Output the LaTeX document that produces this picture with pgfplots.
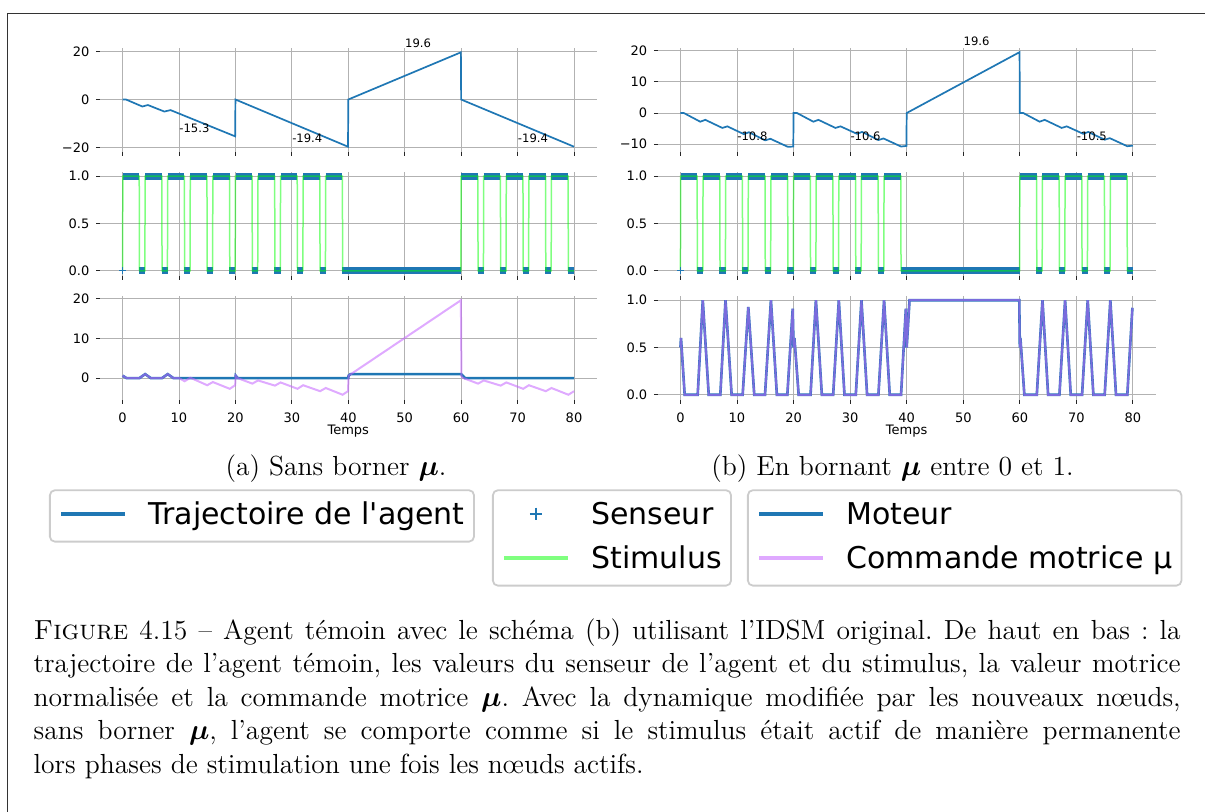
\documentclass[border=0pt]{standalone}
\usepackage{fontspec}
\usepackage{graphicx}
\usepackage{pgfplots}
\usepackage{pgfplotstable}
\pgfplotsset{compat=1.18}
\newfontfamily\mpl[Ligatures=TeXOff]{DejaVu Sans}
\definecolor{mplblue}{RGB}{31,119,180}
\definecolor{muviolet}{RGB}{197,100,255}
\definecolor{stimgreen}{RGB}{0,255,0}
\frenchspacing

\pgfplotstableread{
t v
0 0
0.6 0
3.5 -2.9
4.5 -2.3
7.4 -5.0
8.5 -4.4
19.95 -15.3
20 0
39.95 -19.6
40 0
59.95 19.6
60 0
80 -19.6
}\trajA

\pgfplotstableread{
t v
0 0
0.6 0
3.5 -2.8
4.4 -2.2
7.4 -4.8
8.3 -4.3
11.2 -6.8
12.1 -6.2
15.0 -8.8
15.9 -8.3
19.0 -10.9
19.95 -10.8
20 0
20.6 0
23.5 -2.8
24.4 -2.2
27.4 -4.8
28.3 -4.3
31.2 -6.7
32.1 -6.1
35.0 -8.7
35.9 -8.2
39.0 -10.8
39.95 -10.6
40 0
59.95 19.6
60 0
60.6 0
63.5 -2.8
64.4 -2.2
67.4 -4.8
68.3 -4.3
71.2 -6.7
72.1 -6.1
75.0 -8.6
75.9 -8.1
79.0 -10.7
80 -10.5
}\trajB

\pgfplotstableread{
t v
0.05 1
2.95 1
3 nan
4.0 1
6.95 1
7 nan
8.0 1
10.95 1
11 nan
12.0 1
14.95 1
15 nan
16.0 1
18.95 1
19 nan
20.05 1
22.95 1
23 nan
24.0 1
26.95 1
27 nan
28.0 1
30.95 1
31 nan
32.0 1
34.95 1
35 nan
36.0 1
38.95 1
39 nan
60.05 1
62.95 1
63 nan
64.0 1
66.95 1
67 nan
68.0 1
70.95 1
71 nan
72.0 1
74.95 1
75 nan
76.0 1
78.95 1
}\sensHigh

\pgfplotstableread{
t v
2.9 0
4.0 0
4.05 nan
6.9 0
8.0 0
8.05 nan
10.9 0
12.0 0
12.05 nan
14.9 0
16.0 0
16.05 nan
18.9 0
20.0 0
20.05 nan
22.9 0
24.0 0
24.05 nan
26.9 0
28.0 0
28.05 nan
30.9 0
32.0 0
32.05 nan
34.9 0
36.0 0
36.05 nan
38.95 0
59.95 0
60 nan
62.9 0
64.0 0
64.05 nan
66.9 0
68.0 0
68.05 nan
70.9 0
72.0 0
72.05 nan
74.9 0
76.0 0
76.05 nan
78.9 0
80.0 0
}\sensLow

\pgfplotstableread{
t v
0 0
}\sensPt

\pgfplotstableread{
t v
0 0
0.05 1
2.95 1
3 0
3.95 0
4 1
6.95 1
7 0
7.95 0
8 1
10.95 1
11 0
11.95 0
12 1
14.95 1
15 0
15.95 0
16 1
18.95 1
19 0
19.95 0
20 1
22.95 1
23 0
23.95 0
24 1
26.95 1
27 0
27.95 0
28 1
30.95 1
31 0
31.95 0
32 1
34.95 1
35 0
35.95 0
36 1
38.95 1
39 0
59.95 0
60 1
62.95 1
63 0
63.95 0
64 1
66.95 1
67 0
67.95 0
68 1
70.95 1
71 0
71.95 0
72 1
74.95 1
75 0
75.95 0
76 1
78.95 1
79 0
80 0
}\stim

\pgfplotstableread{
t v
0 0.6
0.7 0
3 0
4 1
5 0
7 0
8 1
9 0
20 0
20.05 0.6
20.4 0
40 0
40.05 0.6
40.4 1
60 1
60.7 0
80 0
}\motA

\pgfplotstableread{
t v
0 0.6
0.7 0
3 0
4 1
5 0
7 0
8 1
9 0
10 0
11 -0.8
12 0.1
15 -1.8
16 -1.0
19 -2.7
19.95 -1.8
20.05 0.6
20.4 0
23 -1.4
24 -0.6
27 -1.9
28 -1.1
31 -2.7
32 -1.8
35 -3.3
36 -2.5
39 -4.2
39.95 -3.3
40.05 0.6
59.95 19.6
60.05 0.5
60.4 0
63 -1.4
64 -0.6
67 -1.9
68 -1.1
71 -2.7
72 -1.8
75 -3.3
76 -2.5
79 -4.2
80 -3.3
}\muA

\pgfplotstableread{
t v
0 0.5
0.1 0.6
0.75 0
3.05 0
3.95 1
5 0
7.05 0
7.97 1
9.05 0
11 0
12 0.93
13.05 0
14.95 0
16 1
17.05 0
18.9 0
19.85 0.91
20.0 0.5
20.15 0.6
20.9 0
23 0
23.95 1
25 0
27 0
28 1
29 0
31 0
32 1
33 0
35 0
36 1
37 0
39 0
39.85 0.91
40.0 0.5
40.15 0.65
40.5 1
59.9 1
60.0 0.5
60.1 0.6
60.8 0
63 0
64 1
65 0
67 0
68 1
69 0
71 0
72 1
73 0
75 0
76 1
77 0
79 0
79.9 0.92
}\muB

\tikzset{annot/.style={anchor=base west, inner sep=0pt, font=\mpl\fontsize{5.8pt}{7pt}\selectfont}}

\pgfplotsset{
  mplaxis/.style={
    scale only axis, width=248.3pt, height=52pt,
    xmin=-4, xmax=84,
    axis line style={draw=none},
    grid=major, major grid style={line width=0.5pt, color=black!30},
    tick align=outside, tick pos=left, major tick length=2pt,
    tick style={line width=0.5pt, color=black!85},
    xtick={0,10,20,30,40,50,60,70,80},
    tick label style={font=\mpl\fontsize{6.5pt}{7.5pt}\selectfont},
    yticklabel style={anchor=east, inner sep=0pt, xshift=-3.1pt},
    xticklabel style={anchor=north, inner sep=0pt, yshift=-4.5pt},
    clip=false,
    unbounded coords=jump,
    legend cell align=left,
    legend image code/.code={\draw[##1, line width=2.1pt] (0pt,1.15pt) -- (31.7pt,1.15pt);},
    legend style={anchor=north west, draw=black!20, line width=0.9pt, rounded corners=2.5pt, fill=white,
      inner xsep=4.65pt, inner ysep=3pt, row sep=2.3pt, column sep=10.8pt,
      font=\mpl\fontsize{15pt}{18pt}\selectfont,
      nodes={inner sep=0pt, text height=14pt, text depth=5.7pt, anchor=west}},
  },
  bottomrow/.style={
    xticklabels={0,10,20,30,40,50,60,70,80},
    xlabel={Temps},
    every axis x label/.style={at={(axis description cs:0.5,0)}, anchor=center, yshift=-15.75pt, font=\mpl\fontsize{6.5pt}{7.5pt}\selectfont},
  },
  senslegend/.style={
    legend image code/.code={\path[draw=none] (0pt,1.15pt) (31.7pt,1.15pt); \draw[##1, line width=1pt, mark size=3pt] plot coordinates {(15.85pt,1.15pt)};},
  },
}

\begin{document}
\begin{tikzpicture}
\path[use as bounding box] (0pt,0pt) rectangle (602.5pt,-405.5pt);
\draw[black!80, line width=0.7pt] (3.65pt,-420pt) -- (3.65pt,-6.65pt) -- (620pt,-6.65pt);

% ---------- left column ----------
\begin{axis}[mplaxis, at={(50pt,-75.75pt)}, anchor=south west,
  ymin=-21.6, ymax=21.6, ytick={-20,0,20}, yticklabels={−20,0,20}, xticklabels={},
  legend style={at={(axis description cs:-0.1027,-3.2481)}}]
\addplot[color=mplblue, line width=0.85pt] table[x=t,y=v]{\trajA};
\addlegendentry{Trajectoire de l'agent}
\node[annot] at (axis cs:10,-13.6) {-15.3};
\node[annot] at (axis cs:30,-17.8) {-19.4};
\node[annot] at (axis cs:50,21.8) {19.6};
\node[annot] at (axis cs:70,-17.8) {-19.4};
\end{axis}

\begin{axis}[mplaxis, at={(50pt,-137.75pt)}, anchor=south west,
  ymin=-0.05, ymax=1.05, ytick={0,0.5,1}, yticklabels={0.0,0.5,1.0}, xticklabels={},
  legend style={at={(axis description cs:0.78937,-2.0558)}}]
\addplot[forget plot, color=mplblue, line width=3.5pt] table[x=t,y=v]{\sensHigh};
\addplot[forget plot, color=mplblue, line width=3.5pt] table[x=t,y=v]{\sensLow};
\addplot[only marks, mark=+, mark size=1.75pt, color=mplblue, line width=0.5pt, senslegend]
  table[x=t,y=v]{\sensPt};
\addlegendentry{Senseur}
\addplot[color=stimgreen, draw opacity=0.5, line width=0.75pt] table[x=t,y=v]{\stim};
\addlegendentry{Stimulus}
\end{axis}

\begin{axis}[mplaxis, bottomrow, at={(50pt,-199.75pt)}, anchor=south west,
  ymin=-5.4, ymax=20.8, ytick={0,10,20}, yticklabels={0,10,20},
  legend style={at={(axis description cs:1.30286,-0.86346)}}]
\addplot[color=mplblue, line width=1.3pt] table[x=t,y=v]{\motA};
\addlegendentry{Moteur}
\addplot[color=muviolet, draw opacity=0.55, line width=1.0pt] table[x=t,y=v]{\muA};
\addlegendentry{Commande motrice μ}
\end{axis}

% ---------- right column ----------
\begin{axis}[mplaxis, width=248.9pt, at={(328.9pt,-75.75pt)}, anchor=south west,
  ymin=-12.4, ymax=21.1, ytick={-10,0,10,20}, yticklabels={−10,0,10,20}, xticklabels={}]
\addplot[color=mplblue, line width=0.85pt] table[x=t,y=v]{\trajB};
\node[annot] at (axis cs:10,-8.9) {-10.8};
\node[annot] at (axis cs:30,-8.9) {-10.6};
\node[annot] at (axis cs:50,21.6) {19.6};
\node[annot] at (axis cs:70,-8.9) {-10.5};
\end{axis}

\begin{axis}[mplaxis, width=248.9pt, at={(328.9pt,-137.75pt)}, anchor=south west,
  ymin=-0.05, ymax=1.05, ytick={0,0.5,1}, yticklabels={0.0,0.5,1.0}, xticklabels={}]
\addplot[color=mplblue, line width=3.5pt] table[x=t,y=v]{\sensHigh};
\addplot[color=mplblue, line width=3.5pt] table[x=t,y=v]{\sensLow};
\addplot[only marks, mark=+, mark size=1.75pt, color=mplblue, line width=0.5pt] table[x=t,y=v]{\sensPt};
\addplot[color=stimgreen, draw opacity=0.5, line width=0.75pt] table[x=t,y=v]{\stim};
\end{axis}

\begin{axis}[mplaxis, bottomrow, width=248.9pt, at={(328.9pt,-199.75pt)}, anchor=south west,
  ymin=-0.05, ymax=1.05, ytick={0,0.5,1}, yticklabels={0.0,0.5,1.0}]
\addplot[color=mplblue, line width=1.3pt] table[x=t,y=v]{\muB};
\addplot[color=muviolet, draw opacity=0.55, line width=1.0pt] table[x=t,y=v]{\muB};
\end{axis}

% ---------- sub-captions ----------
\node[anchor=base, inner sep=0pt] at (168pt,-237.5pt)
  {\fontsize{13.8pt}{16.6pt}\selectfont (a) Sans borner {\boldmath$\mu$}.};
\node[anchor=base, inner sep=0pt] at (446.25pt,-237.5pt)
  {\fontsize{13.8pt}{16.6pt}\selectfont (b) En bornant {\boldmath$\mu$} entre 0 et 1.};

% ---------- caption ----------
\node[anchor=base west, inner sep=0pt] at (16.65pt,-319.5pt)
  {\fontsize{13.8pt}{16.8pt}\selectfont\makebox[573.5pt][s]{\textsc{Figure} 4.15 – Agent témoin avec le schéma (b) utilisant l'IDSM original. De haut en bas : la}};
\node[anchor=base west, inner sep=0pt] at (16.65pt,-336.25pt)
  {\fontsize{13.8pt}{16.8pt}\selectfont\makebox[573.5pt][s]{trajectoire de l'agent témoin, les valeurs du senseur de l'agent et du stimulus, la valeur motrice}};
\node[anchor=base west, inner sep=0pt] at (16.65pt,-353pt)
  {\fontsize{13.8pt}{16.8pt}\selectfont\makebox[573.5pt][s]{normalisée et la commande motrice {\boldmath$\mu$}. Avec la dynamique modifiée par les nouveaux nœuds,}};
\node[anchor=base west, inner sep=0pt] at (16.65pt,-369.75pt)
  {\fontsize{13.8pt}{16.8pt}\selectfont\makebox[573.5pt][s]{sans borner {\boldmath$\mu$}, l'agent se comporte comme si le stimulus était actif de manière permanente}};
\node[anchor=base west, inner sep=0pt] at (16.65pt,-386.5pt)
  {\fontsize{13.8pt}{16.8pt}\selectfont lors phases de stimulation une fois les nœuds actifs.};
\end{tikzpicture}
\end{document}
